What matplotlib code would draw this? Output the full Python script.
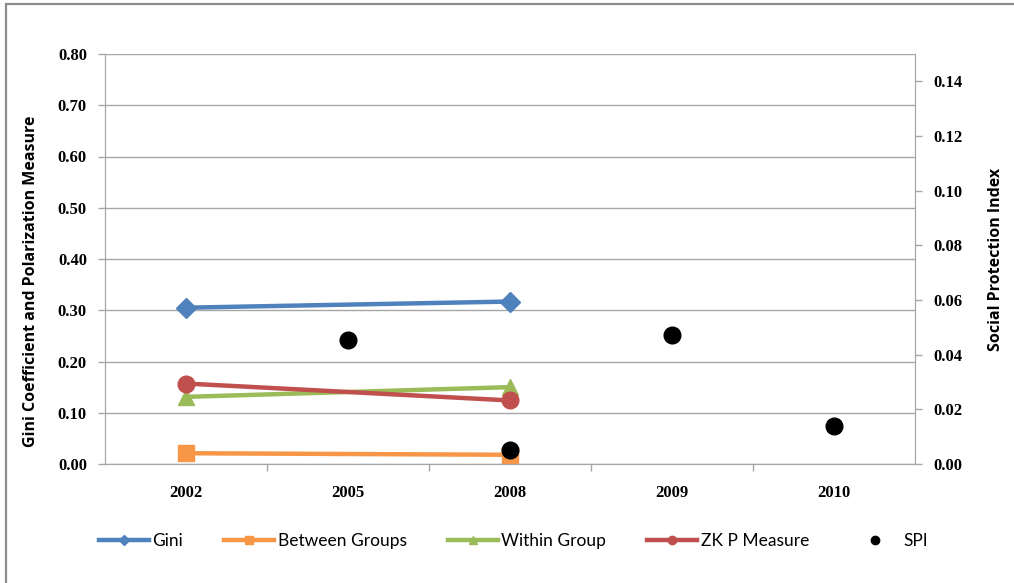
import matplotlib
matplotlib.use("Agg")
import matplotlib.pyplot as plt
from matplotlib.patches import Rectangle
from matplotlib.ticker import FixedLocator, NullFormatter

years = ["2002", "2005", "2008", "2009", "2010"]

# Inequality measures (left axis), observed in 2002 and 2008
measure_years = ["2002", "2008"]
gini = [0.305, 0.317]
between_groups = [0.021, 0.018]
within_group = [0.131, 0.150]
zkp_measure = [0.157, 0.124]

# Social Protection Index (right axis)
spi_years = ["2005", "2008", "2009", "2010"]
spi = [0.0453, 0.0052, 0.0471, 0.0138]

W, H, DPI = 1014, 583, 100
fig = plt.figure(figsize=(W / DPI, H / DPI), dpi=DPI)
fig.patch.set_facecolor("white")

# chart border
fig.patches.append(Rectangle((6 / W, -0.01), 1.2, (583 - 4) / H + 0.01,
                             transform=fig.transFigure, fill=False,
                             edgecolor="#8C8C8C", linewidth=1.6))

ax = fig.add_axes([105 / W, 1 - 464 / H, (915 - 105) / W, (464 - 54) / H])
ax2 = ax.twinx()

xpos = {y: i for i, y in enumerate(years)}
mx = [xpos[y] for y in measure_years]
sx = [xpos[y] for y in spi_years]

grid_c = "#A6A6A6"
tick_font = dict(family="Liberation Serif", weight="bold", size=12)

ax.set_xlim(-0.5, len(years) - 0.5)
ax.set_ylim(0, 0.80)
ax.set_yticks([i / 10 for i in range(9)])
ax.set_yticklabels([f"{i / 10:.2f}" for i in range(9)], fontdict=tick_font)
ax.grid(axis="y", color=grid_c, linewidth=1.0)
ax.set_axisbelow(True)

ax.set_xticks(range(len(years)))
ax.set_xticklabels(years, fontdict=tick_font)
ax.tick_params(axis="x", which="major", length=0, pad=15)
ax.xaxis.set_minor_locator(FixedLocator([i + 0.5 for i in range(len(years) - 1)]))
ax.xaxis.set_minor_formatter(NullFormatter())
ax.tick_params(axis="x", which="minor", length=5, color=grid_c, width=1)
ax.tick_params(axis="y", length=5, color=grid_c, width=1, pad=8)

ax.spines["top"].set_visible(False)
ax2.spines["top"].set_visible(False)
for s in ["left", "right", "bottom"]:
    ax.spines[s].set_color(grid_c)
    ax2.spines[s].set_color(grid_c)

ax2.set_ylim(0, 0.15)
ax2.set_yticks([i * 0.02 for i in range(8)])
ax2.set_yticklabels([f"{i * 0.02:.2f}" for i in range(8)], fontdict=tick_font)
ax2.tick_params(axis="y", length=5, color=grid_c, width=1, pad=8)

label_font = dict(family="Open Sans", weight="bold", size=11.5)
ax.set_ylabel("Gini Coefficient and Polarization Measure", fontdict=label_font)
ax2.set_ylabel("Social Protection Index", fontdict=label_font)
ax.yaxis.set_label_coords((39 - 105) / (915 - 105), 0.445)
ax2.yaxis.set_label_coords((988 - 105) / (915 - 105), 0.5)

lw = 3.2
h1, = ax.plot(mx, gini, color="#4F81BD", lw=lw, marker="D", ms=10, label="Gini")
h2, = ax.plot(mx, between_groups, color="#F79646", lw=lw, marker="s", ms=11, label="Between Groups")
h3, = ax.plot(mx, within_group, color="#9BBB59", lw=lw, marker="^", ms=12, label="Within Group")
h4, = ax.plot(mx, zkp_measure, color="#C0504D", lw=lw, marker="o", ms=12, label="ZK P Measure")
h5, = ax2.plot(sx, spi, color="black", lw=0, marker="o", ms=12, label="SPI")

for h in (h1, h2, h3, h4, h5):
    h.set_clip_on(False)

leg = fig.legend(handles=[h1, h2, h3, h4, h5], loc="center", ncol=5,
                 bbox_to_anchor=(513.5 / W, 1 - 541 / H), frameon=False,
                 prop=dict(family="Lato", size=12.5), markerscale=0.5,
                 handlelength=2.9, handletextpad=0.2, columnspacing=2.35)

fig.savefig("out.png", dpi=DPI, facecolor="white")
